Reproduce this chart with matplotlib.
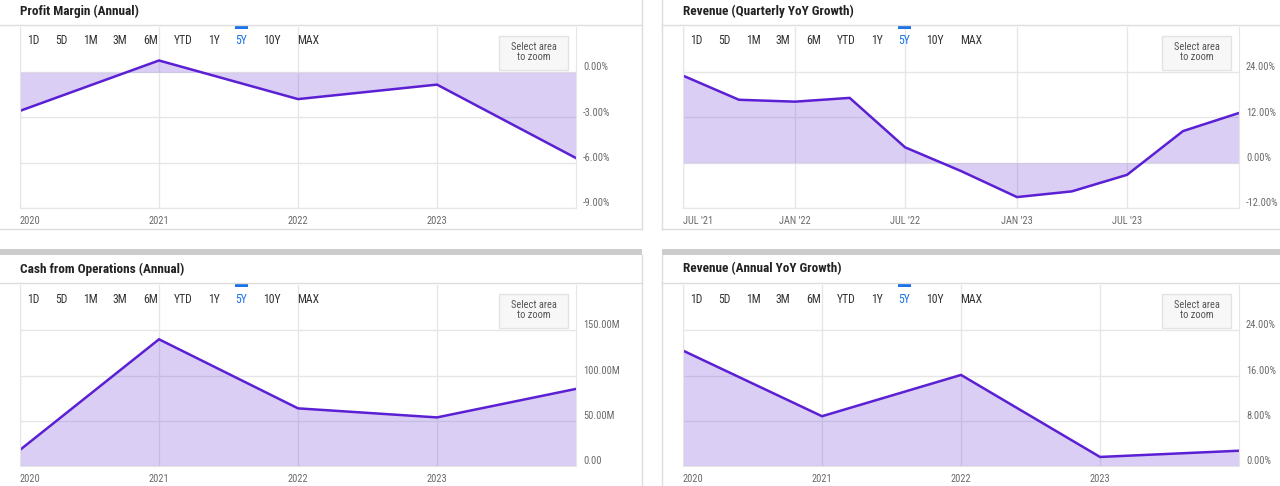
import matplotlib
matplotlib.use('Agg')
import matplotlib.pyplot as plt
import pandas as pd
from matplotlib import font_manager
from matplotlib.patches import Rectangle
from matplotlib.ticker import FuncFormatter

# ---- data ----
years = [2020, 2021, 2022, 2023, 2024]
profit_margin = [-2.56, 0.78, -1.78, -0.82, -5.69]      # %
cash_from_ops = [17.8, 140.0, 63.7, 53.7, 85.2]          # $M
rev_annual_yoy = [20.4, 8.8, 16.1, 1.6, 2.7]            # %

quarters = ['2021-07-01', '2021-10-01', '2022-01-01', '2022-04-01', '2022-07-01',
            '2022-10-01', '2023-01-01', '2023-04-01', '2023-07-01', '2023-10-01',
            '2024-01-01']
rev_quarterly_yoy = [23.1, 16.7, 16.2, 17.2, 4.1, -2.2, -9.1, -7.6, -3.2, 8.4, 13.2]

year_ticks = [2020, 2021, 2022, 2023]
year_labels = ['2020', '2021', '2022', '2023']
q_ticks = ['2021-07-01', '2022-01-01', '2022-07-01', '2023-01-01', '2023-07-01']
q_labels = ["JUL '21", "JAN '22", "JUL '22", "JAN '23", "JUL '23"]
buttons = ['1D', '5D', '1M', '3M', '6M', 'YTD', '1Y', '5Y', '10Y', 'MAX']
button_x = [33, 61, 90, 120, 151, 183, 214, 241, 272, 308]

W, H = 1280, 486
LINE = '#5b1fd4'
FILL = '#7b52d9'
GRID = '#e6e6e6'

installed = {f.name for f in font_manager.fontManager.ttflist}
narrow = next((f for f in ['Roboto Condensed', 'Liberation Sans Narrow', 'Roboto']
               if f in installed), 'DejaVu Sans')
plt.rcParams['font.family'] = [narrow, 'DejaVu Sans']

fig = plt.figure(figsize=(W / 100, H / 100), dpi=100)

# full-figure overlay in pixel coordinates for the page chrome
bg = fig.add_axes([0, 0, 1, 1], zorder=5)
bg.set_xlim(0, W)
bg.set_ylim(H, 0)
bg.axis('off')
bg.patch.set_alpha(0)

# panel frames
for x0, x1 in [(0, 642), (662, 1280)]:
    bg.plot([x0, x1], [229, 229], color='#dddddd', lw=1)
    bg.add_patch(Rectangle((x0, 249), x1 - x0, 6, color='#cccccc', lw=0))
    for oy in [0, 258]:
        bg.plot([x0, x1], [25 + oy, 25 + oy], color='#dddddd', lw=1)
bg.plot([642, 642], [0, 229], color='#dddddd', lw=1)
bg.plot([642, 642], [255, 486], color='#dddddd', lw=1)
bg.plot([662, 662], [0, 229], color='#dddddd', lw=1)
bg.plot([662, 662], [255, 486], color='#dddddd', lw=1)


def chrome(ox, oy, title):
    bg.text(20 + ox, 11 + oy, title, fontsize=9.5, fontweight='bold',
            color='#222222', va='center', ha='left')
    for lab, bx in zip(buttons, button_x):
        blue = lab == '5Y'
        bg.text(bx + ox, 41 + oy, lab, fontsize=8.5, va='center', ha='center',
                color='#1a73e8' if blue else '#333333')
    bg.add_patch(Rectangle((235 + ox, 26 + oy), 13, 3, color='#1a73e8', lw=0))
    bg.add_patch(Rectangle((499 + ox, 36 + oy), 69, 34, facecolor='#f7f7f7',
                           edgecolor='#e3e3e3', lw=1))
    bg.text(533.5 + ox, 52 + oy, 'Select area\nto zoom', fontsize=7.5,
            color='#555555', va='center', ha='center', linespacing=1.1)


def panel(ox, oy, x, y, ylim, yticks, yfmt, xticks, xlabels, xlim):
    x0, x1, y0, y1 = 20 + ox, 576 + ox, 27 + oy, 208 + oy
    ax = fig.add_axes([x0 / W, 1 - y1 / H, (x1 - x0) / W, (y1 - y0) / H])
    ax.set_axisbelow(True)
    ax.fill_between(x, y, 0, color=FILL, alpha=0.28, lw=0)
    ax.plot(x, y, color=LINE, lw=1.8, solid_joinstyle='miter')
    ax.set_xlim(*xlim)
    ax.set_ylim(*ylim)
    ax.set_yticks(yticks)
    ax.yaxis.set_major_formatter(FuncFormatter(yfmt))
    ax.yaxis.tick_right()
    ax.set_xticks(xticks, xlabels)
    ax.grid(True, color=GRID, lw=1)
    ax.tick_params(length=0, labelsize=7.5, labelcolor='#6a6a6a')
    ax.tick_params(axis='x', pad=5.5)
    ax.tick_params(axis='y', pad=5)
    for t in ax.get_yticklabels():
        t.set_verticalalignment('bottom')
    ax.get_xticklabels()[0].set_horizontalalignment('left')
    ax.spines['top'].set_visible(False)
    for s in ['left', 'right', 'bottom']:
        ax.spines[s].set_color(GRID)
    return ax


pct = lambda v, pos: f'{v:.2f}%'
money = lambda v, pos: '0.00' if v == 0 else f'{v:.2f}M'

q_dates = pd.to_datetime(quarters)

chrome(0, 0, 'Profit Margin (Annual)')
panel(0, 0, years, profit_margin, (-9, 3), [-9, -6, -3, 0], pct,
      year_ticks, year_labels, (years[0], years[-1]))

chrome(663, 0, 'Revenue (Quarterly YoY Growth)')
panel(663, 0, q_dates, rev_quarterly_yoy, (-12, 36), [-12, 0, 12, 24], pct,
      pd.to_datetime(q_ticks), q_labels, (q_dates[0], q_dates[-1]))

chrome(0, 258, 'Cash from Operations (Annual)')
panel(0, 258, years, cash_from_ops, (0, 200), [0, 50, 100, 150], money,
      year_ticks, year_labels, (years[0], years[-1]))

chrome(663, 258, 'Revenue (Annual YoY Growth)')
panel(663, 258, years, rev_annual_yoy, (0, 32), [0, 8, 16, 24], pct,
      year_ticks, year_labels, (years[0], years[-1]))

fig.savefig('out.png', dpi=100)
